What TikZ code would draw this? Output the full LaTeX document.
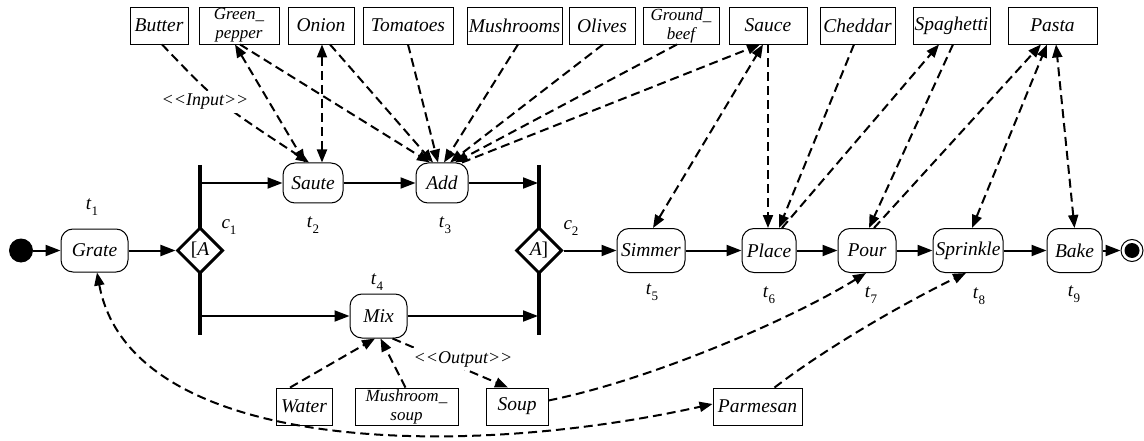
\documentclass[tikz,border=0pt]{standalone}
\usepackage{fontspec}
\setmainfont{Liberation Serif}
\usetikzlibrary{arrows.meta,shapes.geometric}
\newcommand\tsubl[2]{\textit{#1}\raisebox{-0.3em}{\fontsize{13}{13}\selectfont #2}}
\newcommand\lbl{\fontsize{19.5}{13.5}\selectfont\itshape}
\newcommand\lbltwo{\fontsize{17}{19}\selectfont\itshape}
\newcommand\dlt{<\kern0pt<}
\newcommand\dgt{>\kern0pt>}
\begin{document}
\begin{tikzpicture}[x=1pt,y=-1pt,
  act/.style={draw, line width=1pt, rounded corners=12pt, fill=white, minimum height=44pt, inner sep=1pt, font=\lbl},
  ing/.style={draw, line width=0.9pt, fill=white, minimum height=37pt, inner sep=1pt, font=\lbl, align=center},
  ingtwo/.style={ing, font=\lbltwo, inner sep=0pt},
  gate/.style={diamond, draw, line width=3pt, fill=white, minimum width=46pt, minimum height=46pt, inner sep=0pt, font=\fontsize{19.5}{19.5}\selectfont\itshape},
  flow/.style={line width=2pt, -{Triangle[length=15pt,width=11pt]}},
  dfl/.style={line width=2pt, dash pattern=on 9pt off 5pt, -{Triangle[length=13pt,width=10pt]}},
  dfll/.style={line width=2pt, dash pattern=on 9pt off 5pt, {Triangle[length=13pt,width=10pt]}-{Triangle[length=13pt,width=10pt]}},
  bar/.style={line width=4pt},
  tlab/.style={font=\fontsize{19}{19}\selectfont, inner sep=0pt},
  stereo/.style={fill=white, font=\fontsize{18}{18}\selectfont\itshape, inner sep=3pt}]
\useasboundingbox (0,0) rectangle (1144,441);

% fork / join bars
\coordinate (bar1top) at (200,165);
\coordinate (bar1bot) at (200,335);
\coordinate (bar2top) at (539,165);
\coordinate (bar2bot) at (539,335);
\coordinate (b1u) at (200,183);
\coordinate (b1d) at (200,316);
\coordinate (b2u) at (539,183);
\coordinate (b2d) at (539,316);
\draw[bar] (bar1top) -- (bar1bot);
\draw[bar] (bar2top) -- (bar2bot);

% activity nodes
\node[circle, fill=black, minimum size=24pt, inner sep=0pt] (start) at (21,250.5) {};
\node[act, minimum width=67pt, minimum height=43pt] (grate) at (94.5,250.5) {Grate};
\node[gate] (c1) at (200,250.5) {{\upshape[}A};
\node[act, minimum width=60pt, minimum height=40pt] (saute) at (313,183) {Saute};
\node[act, minimum width=52pt, minimum height=40pt] (add) at (442,183) {Add};
\node[act, minimum width=57pt] (mix) at (378.5,316) {Mix};
\node[gate] (c2) at (539,250.5) {A{\upshape]}};
\node[act, minimum width=68pt] (simmer) at (651,250.5) {Simmer};
\node[act, minimum width=54pt] (place) at (769,250.5) {Place};
\node[act, minimum width=58pt] (pour) at (867,250.5) {Pour};
\node[act, minimum width=70pt] (sprinkle) at (968,250.5) {Sprinkle};
\node[act, minimum width=55pt] (bake) at (1074.5,250.5) {Bake};
\node[circle, draw, line width=1pt, minimum size=22pt, inner sep=0pt] (final) at (1132,250.5) {};
\node[circle, fill=black, minimum size=15pt, inner sep=0pt] (finalin) at (final.center) {};

% object nodes (top)
\node[ing, minimum width=58pt] (butter) at (159,25.5) {Butter};
\node[ingtwo, minimum width=80pt] (gp) at (239,25.5) {Green\_\\pepper};
\node[ing, minimum width=66pt] (onion) at (321,25.5) {Onion};
\node[ing, minimum width=90pt] (tomatoes) at (408,25.5) {Tomatoes};
\node[ing, minimum width=95pt] (mushrooms) at (514.5,25.5) {Mushrooms};
\node[ing, minimum width=66pt] (olives) at (602,25.5) {Olives};
\node[ingtwo, minimum width=76pt] (beef) at (681,25.5) {Ground\_\\beef};
\node[ing, minimum width=78pt] (sauce) at (768,25.5) {Sauce};
\node[ing, minimum width=75pt] (cheddar) at (857.5,25.5) {Cheddar};
\node[ing, minimum width=77pt] (spaghetti) at (951.5,25.5) {Spaghetti};
\node[ing, minimum width=89pt] (pasta) at (1052.5,25.5) {Pasta};
% object nodes (bottom)
\node[ing, minimum width=56pt] (water) at (304,406.5) {Water};
\node[ingtwo, minimum width=103pt] (mushsoup) at (406.5,406.5) {Mushroom\_\\soup};
\node[ing, minimum width=62pt] (soup) at (517,406.5) {Soup};
\node[ing, minimum width=89pt] (parmesan) at (757.5,406.5) {Parmesan};

% control flow
\draw[flow] (start) -- (grate);
\draw[flow] (grate) -- (c1);
\draw[flow] (b1u) -- (saute);
\draw[flow] (b1d) -- (mix);
\draw[flow] (saute) -- (add);
\draw[flow, shorten >=1pt] (add) -- (b2u);
\draw[flow, shorten >=1pt] (mix) -- (b2d);
\draw[flow] (c2) -- (simmer);
\draw[flow] (simmer) -- (place);
\draw[flow] (place) -- (pour);
\draw[flow] (pour) -- (sprinkle);
\draw[flow] (sprinkle) -- (bake);
\draw[flow] (bake) -- (final);

% object flows
\draw[dfl] ([xshift=3pt]butter.south) .. controls (217,102) .. ([xshift=-4pt]saute.north);
\draw[dfll] ([xshift=-4pt]gp.south) -- ([xshift=-8pt]saute.north);
\draw[dfl] ([xshift=1pt]gp.south) -- ([xshift=-12pt]add.north);
\draw[dfll] ([xshift=1pt]onion.south) -- ([xshift=9pt]saute.north);
\draw[dfl] ([xshift=9pt]onion.south) -- ([xshift=-9pt]add.north);
\draw[dfl] (tomatoes.south) -- ([xshift=-4pt]add.north);
\draw[dfl] ([xshift=3.5pt]mushrooms.south) -- ([xshift=2pt]add.north);
\draw[dfl] ([xshift=1pt]olives.south) -- ([xshift=8pt]add.north);
\draw[dfl] ([xshift=-4pt]beef.south) -- ([xshift=13pt]add.north);
\draw[dfl] ([xshift=20pt]add.north) -- ([xshift=-8pt]sauce.south);
\draw[dfll] ([xshift=2pt]simmer.north) -- ([xshift=-5pt]sauce.south);
\draw[dfl] ([xshift=0pt]sauce.south) -- ([xshift=-1pt]place.north);
\draw[dfl] ([xshift=-3.5pt]cheddar.south) -- ([xshift=10pt]place.north);
\draw[dfl] ([xshift=13pt]place.north) -- ([xshift=-12.5pt]spaghetti.south);
\draw[dfl] ([xshift=1.5pt]spaghetti.south) -- ([xshift=2pt]pour.north);
\draw[dfl] ([xshift=7pt]pour.north) -- ([xshift=-11.5pt]pasta.south);
\draw[dfll] ([xshift=4pt]sprinkle.north) -- ([xshift=-5.5pt]pasta.south);
\draw[dfll] ([xshift=0pt]bake.north) -- ([xshift=3.5pt]pasta.south);
\draw[dfl] ([xshift=-14pt]water.north) -- ([xshift=-3.5pt]mix.south);
\draw[dfl] ([xshift=-1pt]mushsoup.north) -- ([xshift=2pt]mix.south);
\draw[dfl] ([xshift=14pt]mix.south) -- ([xshift=-9pt]soup.north);
\draw[dfl] ([yshift=6pt]soup.east) .. controls (650,380) and (790,320) .. ([xshift=-1pt]pour.south);
\draw[dfll] ([xshift=2.5pt]grate.south) .. controls (130,450) and (450,462) .. ([yshift=2.5pt]parmesan.west);
\draw[dfl] ([xshift=17pt]parmesan.north) .. controls (830,345) and (910,300) .. ([xshift=-2pt]sprinkle.south);

% stereotype labels
\node[stereo] (inlbl) at (205,102) {\dlt Input\dgt};
\node[stereo] (outlbl) at (463,359) {\dlt Output\dgt};

% transition / condition labels
\node[tlab] (t1) at (92,207) {\tsubl{t}{1}};
\node[tlab] (t2) at (313,225) {\tsubl{t}{2}};
\node[tlab] (t3) at (445,225) {\tsubl{t}{3}};
\node[tlab] (t4) at (377,282) {\tsubl{t}{4}};
\node[tlab] (t5) at (652,292) {\tsubl{t}{5}};
\node[tlab] (t6) at (769,295) {\tsubl{t}{6}};
\node[tlab] (t7) at (871,295) {\tsubl{t}{7}};
\node[tlab] (t8) at (979,296) {\tsubl{t}{8}};
\node[tlab] (t9) at (1074,294) {\tsubl{t}{9}};
\node[tlab] (c1l) at (229,227) {\tsubl{c}{1}};
\node[tlab] (c2l) at (571,228) {\tsubl{c}{2}};
\end{tikzpicture}
\end{document}
